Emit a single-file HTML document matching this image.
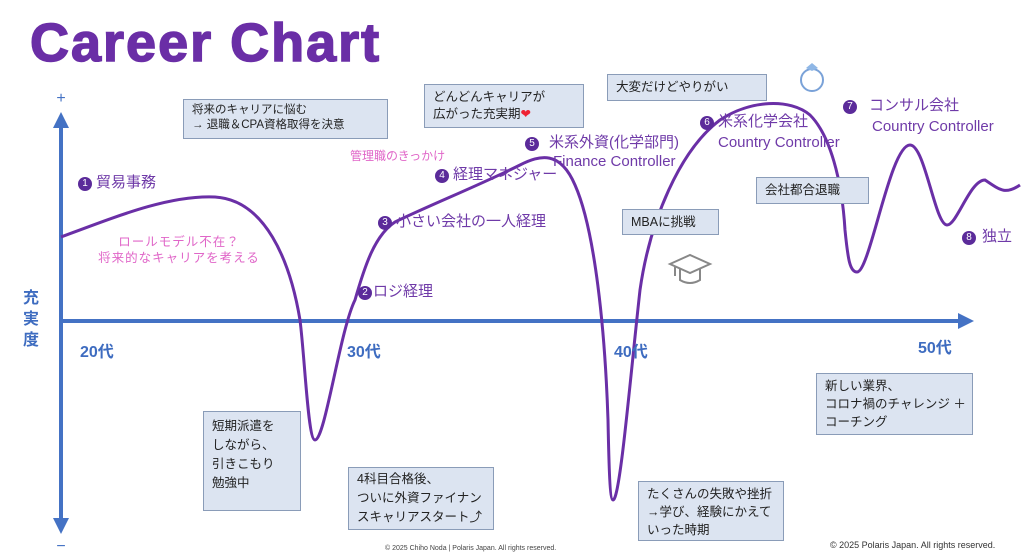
<!DOCTYPE html>
<html><head><meta charset="utf-8"><style>
body{margin:0;width:1024px;height:560px;background:#fff;position:relative;overflow:hidden;font-family:"Liberation Sans","Noto Sans CJK JP",sans-serif}
.a{position:absolute;white-space:nowrap}
.t{left:30px;top:16px;font-size:54px;line-height:54px;font-weight:bold;color:#6a2ea6;letter-spacing:2px;-webkit-text-stroke:1.5px #6a2ea6}
.box{position:absolute;background:#dce4f1;border:1.5px solid #8a9cb8;font-size:11.5px;color:#222;line-height:16px;padding:4px 8px;box-sizing:border-box;white-space:nowrap}
.lb{position:absolute;white-space:nowrap;color:#6f3aa8;font-size:15px;line-height:18px}
.n{display:inline-block;width:14px;height:14px;border-radius:50%;background:#5b2b9a;color:#fff;font-size:10px;line-height:14px;text-align:center;vertical-align:1px;margin-right:4px}
.pk{position:absolute;white-space:nowrap;color:#e066c8;font-size:12px;line-height:16px}
.age{position:absolute;color:#3e6cc0;font-weight:bold;font-size:16px}
</style></head><body>
<div class="a t">Career Chart</div>
<svg width="1024" height="560" style="position:absolute;left:0;top:0">
<line x1="61" y1="126" x2="61" y2="520" stroke="#4472c4" stroke-width="4"/>
<path d="M53,128L61,112L69,128z" fill="#4472c4"/>
<path d="M53,518L61,534L69,518z" fill="#4472c4"/>
<line x1="61" y1="321" x2="960" y2="321" stroke="#4472c4" stroke-width="4"/>
<path d="M958,313L974,321L958,329z" fill="#4472c4"/>
<text x="61" y="103" font-size="16" fill="#4472c4" text-anchor="middle">+</text>
<text x="61" y="551" font-size="16" fill="#4472c4" text-anchor="middle">−</text>
<path d="M61,237 C120,215 170,195 215,197 C265,200 290,260 300,320 C305,360 308,440 315,440 C325,440 340,330 355,300 C365,265 375,235 395,222 C430,205 480,185 520,165 C540,155 560,150 575,185 C595,230 605,330 608,420 C609,470 610,500 613,500 C620,500 630,380 640,290 C650,220 680,150 720,120 C750,100 790,98 810,115 C830,135 842,180 845,230 C848,260 850,272 857,272 C870,272 890,145 910,145 C925,145 935,225 947,225 C957,225 970,180 985,180 C1000,190 1005,195 1020,185" fill="none" stroke="#6a2fa6" stroke-width="3"/>
<circle cx="812" cy="80" r="11" fill="none" stroke="#7aa2d8" stroke-width="2"/>
<path d="M806,68L812,63L818,68L812,71z" fill="#8fb7e6"/>
<path d="M670,264L690,255L710,264L690,273z" fill="none" stroke="#888" stroke-width="2"/>
<path d="M680,268L680,280Q690,286 700,280L700,268" fill="none" stroke="#888" stroke-width="2"/>
<path d="M675,266L675,276" stroke="#888" stroke-width="2"/>
</svg>
<div class="a" style="left:23px;top:288px;width:18px;font-size:16px;font-weight:bold;color:#3e6cc0;line-height:21px;white-space:normal">充実度</div>
<div class="age" style="left:80px;top:338px">20代</div>
<div class="age" style="left:347px;top:338px">30代</div>
<div class="age" style="left:614px;top:338px">40代</div>
<div class="age" style="left:918px;top:334px">50代</div>

<div class="box" style="left:183px;top:99px;width:205px;height:40px;line-height:15px;padding:3px 8px">将来のキャリアに悩む<br>→ 退職＆CPA資格取得を決意</div>
<div class="box" style="left:424px;top:84px;width:160px;height:44px;font-size:12.5px;line-height:17px;padding:4px 8px">どんどんキャリアが<br>広がった充実期<span style="color:#e23">❤</span></div>
<div class="box" style="left:607px;top:74px;width:160px;height:27px;font-size:12.5px">大変だけどやりがい</div>
<div class="box" style="left:622px;top:209px;width:97px;height:26px;font-size:12.5px">MBAに挑戦</div>
<div class="box" style="left:756px;top:177px;width:113px;height:27px;font-size:12.5px">会社都合退職</div>
<div class="box" style="left:203px;top:411px;width:98px;height:100px;font-size:12.5px;line-height:19px;padding:5px 8px">短期派遣を<br>しながら、<br>引きこもり<br>勉強中</div>
<div class="box" style="left:348px;top:467px;width:146px;height:63px;font-size:12.5px;line-height:19px;padding:2px 8px">4科目合格後、<br>ついに外資ファイナン<br>スキャリアスタート⤴</div>
<div class="box" style="left:638px;top:481px;width:146px;height:60px;font-size:12.5px;line-height:18px;padding:3px 8px">たくさんの失敗や挫折<br>→学び、経験にかえて<br>いった時期</div>
<div class="box" style="left:816px;top:373px;width:157px;height:62px;font-size:12.5px;line-height:18px;padding:3px 8px">新しい業界、<br>コロナ禍のチャレンジ ＋<br>コーチング</div>

<div class="lb" style="left:78px;top:174px"><span class="n">1</span>貿易事務</div>
<div class="lb" style="left:358px;top:283px"><span class="n" style="margin-right:1px">2</span>ロジ経理</div>
<div class="lb" style="left:378px;top:213px"><span class="n">3</span>小さい会社の一人経理</div>
<div class="lb" style="left:435px;top:166px"><span class="n">4</span>経理マネジャー</div>
<div class="lb" style="left:525px;top:134px"><span class="n" style="margin-right:10px">5</span>米系外資(化学部門)</div>
<div class="lb" style="left:553px;top:153px">Finance Controller</div>
<div class="lb" style="left:700px;top:113px"><span class="n">6</span>米系化学会社</div>
<div class="lb" style="left:718px;top:134px">Country Controller</div>
<div class="lb" style="left:843px;top:97px"><span class="n" style="margin-right:12px">7</span>コンサル会社</div>
<div class="lb" style="left:872px;top:118px">Country Controller</div>
<div class="lb" style="left:962px;top:228px"><span class="n" style="margin-right:6px">8</span>独立</div>

<div class="pk" style="left:350px;top:148px">管理職のきっかけ</div>
<div class="pk" style="left:94px;top:234px;font-size:12.5px;width:170px;text-align:center;letter-spacing:1px">ロールモデル不在？<br>将来的なキャリアを考える</div>

<div class="a" style="left:385px;top:545px;font-size:7px;color:#444">© 2025 Chiho Noda | Polaris Japan. All rights reserved.</div>
<div class="a" style="left:830px;top:540px;font-size:9px;color:#333">© 2025 Polaris Japan. All rights reserved.</div>
</body></html>
